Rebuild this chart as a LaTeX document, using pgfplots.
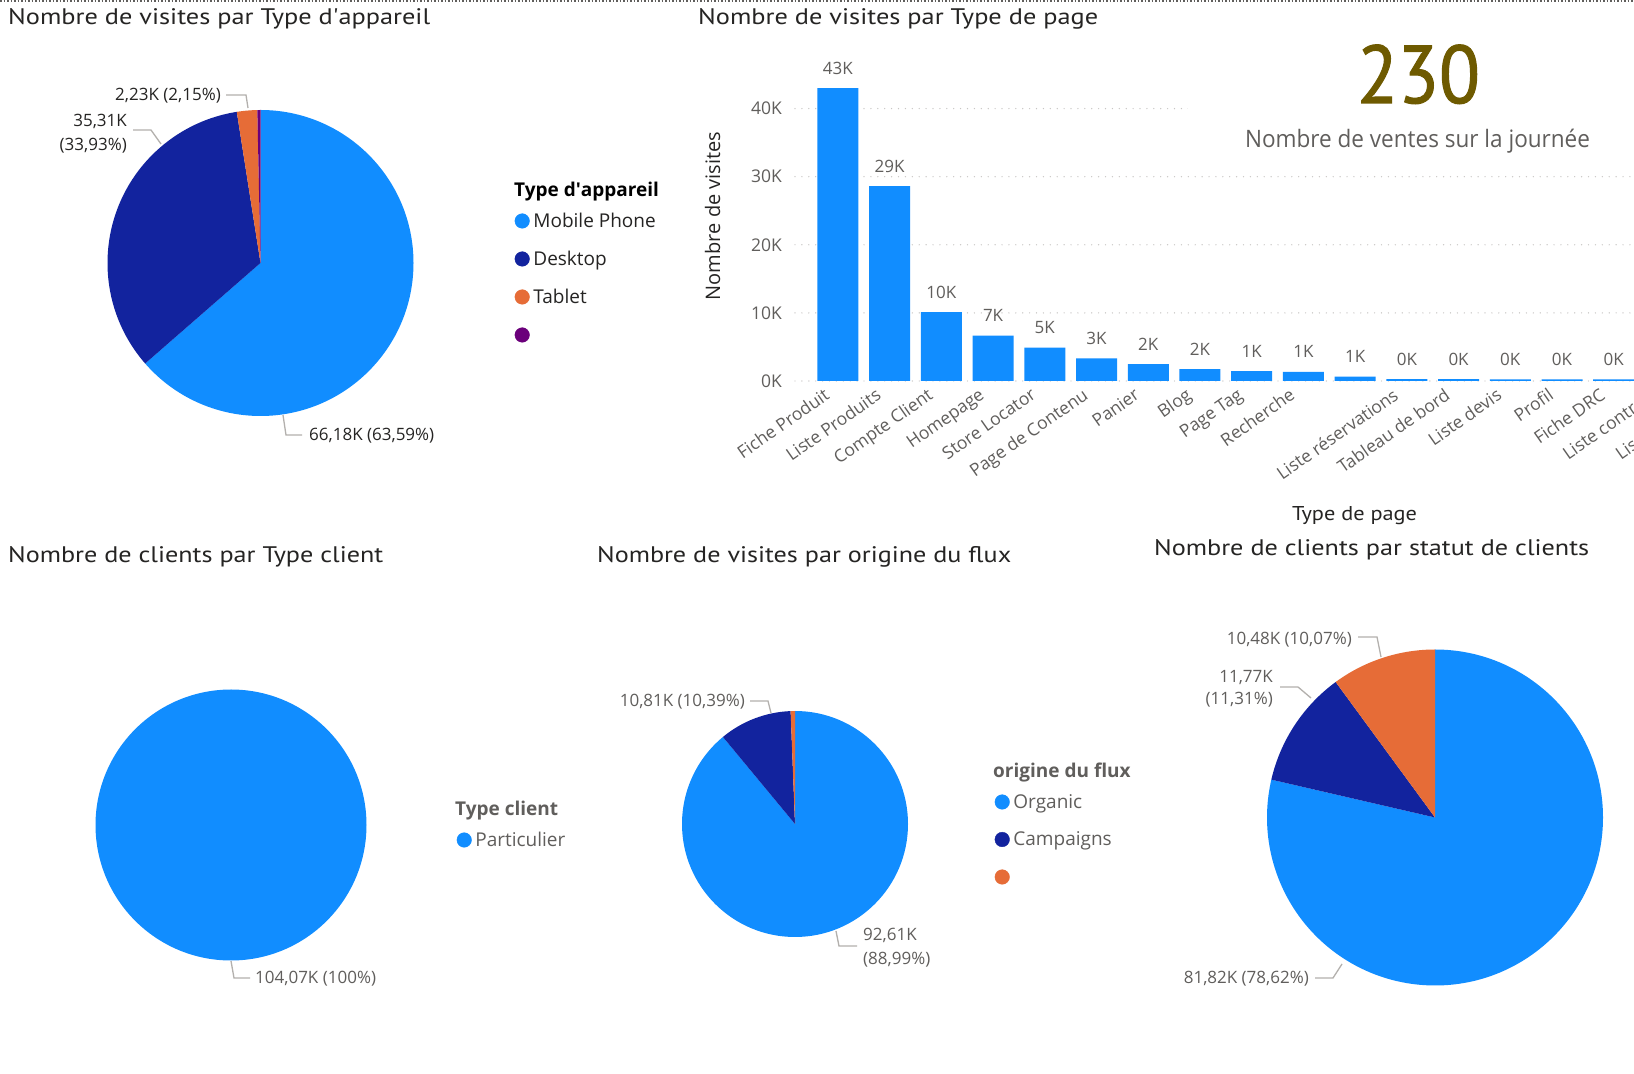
\documentclass[border=0pt]{standalone}
\usepackage{fontspec}
\setmainfont{Open Sans}
\newfontfamily\dinfont{PT Sans}
\newfontfamily\cardfont[FakeBold=1.3]{PT Sans}
\usepackage{graphicx}
\usepackage{pgfplots}
\pgfplotsset{compat=1.18}

\definecolor{pbblue}{HTML}{118DFF}
\definecolor{pbdark}{HTML}{12239E}
\definecolor{pborange}{HTML}{E66C37}
\definecolor{pbpurple}{HTML}{6B007B}
\definecolor{txtdark}{HTML}{252423}
\definecolor{txtgrey}{HTML}{605E5C}
\definecolor{leadc}{HTML}{B3B0AD}
\definecolor{gridc}{HTML}{C8C6C4}
\definecolor{olive}{HTML}{6E5A00}

\newcommand{\fs}[1]{\fontsize{#1pt}{#1pt}\selectfont}
% one pie slice: colour, radius (pt), start (%), value (%)
\newcommand{\slice}[4]{\fill[#1] (axis cs:0,0) -- (axis cs:{cos(90-3.6*#3)},{sin(90-3.6*#3)})
  arc[start angle={90-3.6*#3}, end angle={90-3.6*(#3+#4)}, radius=#2pt] -- cycle;}

\pgfplotsset{
  pieax/.style={hide axis, xmin=-1, xmax=1, ymin=-1, ymax=1, anchor=center, clip=false,
    legend image code/.code={\fill[##1] (0pt,0pt) circle[radius=7.3pt];},
    legend cell align=left,
    legend style={draw=none, fill=none, anchor=north west, inner sep=0pt, outer sep=0pt,
      column sep=3.7pt, row sep=22.5pt,
      nodes={inner sep=0pt, text height=14pt, text depth=1.5pt, font=\fs{19}}}},
}

\begin{document}
\begin{tikzpicture}[x=1pt,y=1pt]
\useasboundingbox (0,0) rectangle (1634,1074);
\clip (0,0) rectangle (1634,1074);
\fill[white] (0,0) rectangle (1634,1074);
\draw[txtgrey, line width=1.2pt, dash pattern=on 1.5pt off 2pt] (0,1073) -- (1634,1073);

% ---------- titles
\node[anchor=base west, inner sep=0, text=txtdark] at (8,1049.5) {\resizebox{422pt}{\height}{\dinfont\fs{22.5}Nombre de visites par Type d\textquotesingle appareil}};
\node[anchor=base west, inner sep=0, text=txtdark] at (698,1049.5) {\resizebox{400pt}{\height}{\dinfont\fs{22.5}Nombre de visites par Type de page}};
\node[anchor=base west, inner sep=0, text=txtdark] at (8,511) {\resizebox{375pt}{\height}{\dinfont\fs{22.5}Nombre de clients par Type client}};
\node[anchor=base west, inner sep=0, text=txtdark] at (597,511) {\resizebox{414pt}{\height}{\dinfont\fs{22.5}Nombre de visites par origine du flux}};
\node[anchor=base west, inner sep=0, text=txtdark] at (1154,518) {\resizebox{435pt}{\height}{\dinfont\fs{22.5}Nombre de clients par statut de clients}};

% ---------- pie 1 : type d'appareil
\begin{axis}[pieax, x=153pt, y=153pt, at={(260.5pt,811pt)},
  legend style={at={(axis cs:1.6614,0.3252)}, nodes={text=txtdark}}]
\slice{pbblue}{153}{0}{63.59}
\slice{pbdark}{153}{63.59}{33.93}
\slice{pborange}{153}{97.52}{2.15}
\slice{pbpurple}{153}{99.67}{0.33}
\addlegendimage{pbblue}\addlegendentry{Mobile Phone}
\addlegendimage{pbdark}\addlegendentry{Desktop}
\addlegendimage{pborange}\addlegendentry{Tablet}
\addlegendimage{pbpurple}\addlegendentry{}
\end{axis}
\node[anchor=base west, inner sep=0, text=black, font=\fs{19}\bfseries] at (514,877) {Type d\textquotesingle appareil};
\begin{scope}[leadc, line width=1.3pt]
\draw (226,979) -- (246,979) -- (248,966);
\draw (133,944) -- (151,944) -- (161,930);
\draw (283,659) -- (286,639) -- (302,639);
\end{scope}
\begin{scope}[every node/.style={inner sep=0, text=txtdark, font=\fs{17}}]
\node[anchor=base east] at (221,973) {2,23K (2,15\%)};
\node[anchor=base east] at (127,947) {35,31K};
\node[anchor=base east] at (127,923) {(33,93\%)};
\node[anchor=base west] at (309,633) {66,18K (63,59\%)};
\end{scope}

% ---------- bar chart : type de page
\begin{axis}[
  at={(795pt,693pt)}, anchor=south west,
  x=51.72pt, y=6.81pt,
  xmin=-0.83, xmax=17.6, ymin=0, ymax=46,
  ybar, bar width=41pt, clip=false,
  axis line style={draw=none}, major tick length=0pt,
  /pgf/number format/assume math mode=true,
  ytick={0,10,20,30,40}, yticklabels={0K,10K,20K,30K,40K},
  ymajorgrids,
  major grid style={color=gridc, line width=1.4pt, line cap=round, dash pattern=on 0pt off 6.9pt},
  yticklabel style={font=\fs{17.5}, text=txtgrey, anchor=east, inner sep=0pt, xshift=-13pt},
  xtick={0,...,17},
  xticklabels={Fiche Produit, Liste Produits, Compte Client, Homepage, Store Locator,
    Page de Contenu, Panier, Blog, Page Tag, Recherche, {}, Liste réservations,
    Tableau de bord, Liste devis, Profil, Fiche DRC, Liste contrats, Liste factures},
  xticklabel style={xshift=-15pt, yshift=-6pt, rotate=35, anchor=north east,
    font=\fs{17.5}, text=txtgrey, inner sep=0pt},
  nodes near coords={\pgfmathprintnumber[fixed,precision=0]{\pgfplotspointmeta}K},
  every node near coord/.append style={anchor=center, yshift=20pt, font=\fs{17}, text=txtgrey},
]
\addplot[fill=pbblue, draw=none] coordinates {
  (0,43.0) (1,28.6) (2,10.1) (3,6.65) (4,4.9) (5,3.33) (6,2.46) (7,1.73)
  (8,1.45) (9,1.35) (10,0.65) (11,0.27) (12,0.26) (13,0.25) (14,0.25) (15,0.24)
};
\end{axis}
\node[rotate=90, anchor=base, inner sep=0, text=txtdark, font=\fs{20}] at (720,858) {Nombre de visites};
\node[anchor=base, inner sep=0, text=txtdark] at (1354.5,553) {\resizebox{125pt}{\height}{\dinfont\fs{20}Type de page}};

% ---------- card
\fill[white] (1188,909) rectangle (1640,1045);
\node[anchor=base, inner sep=0, text=olive] at (1418.5,971) {\resizebox{123pt}{\height}{\cardfont\fs{82}230}};
\node[anchor=base, inner sep=0, text=txtgrey] at (1417.5,926) {\resizebox{345pt}{\height}{\fs{24}Nombre de ventes sur la journée}};

% ---------- pie 2 : type client
\begin{axis}[pieax, x=135.5pt, y=135.5pt, at={(231pt,249pt)},
  legend style={at={(axis cs:1.6657,-0.0535)}, nodes={text=txtgrey}}]
\slice{pbblue}{135.5}{0}{100}
\addlegendimage{pbblue}\addlegendentry{Particulier}
\end{axis}
\node[anchor=base west, inner sep=0, text=txtgrey, font=\fs{19}\bfseries] at (455,258) {Type client};
\draw[leadc, line width=1.3pt] (231,113) -- (234,96) -- (250,96);
\node[anchor=base west, inner sep=0, text=txtgrey, font=\fs{17}] at (255,90) {104,07K (100\%)};

% ---------- pie 3 : origine du flux
\begin{axis}[pieax, x=113pt, y=113pt, at={(795pt,250pt)},
  legend style={at={(axis cs:1.7673,0.2633)}, row sep=22pt, nodes={text=txtgrey}}]
\slice{pbblue}{113}{0}{88.99}
\slice{pbdark}{113}{88.99}{10.39}
\slice{pborange}{113}{99.38}{0.62}
\addlegendimage{pbblue}\addlegendentry{Organic}
\addlegendimage{pbdark}\addlegendentry{Campaigns}
\addlegendimage{pborange}\addlegendentry{}
\end{axis}
\node[anchor=base west, inner sep=0, text=txtgrey, font=\fs{19}\bfseries] at (993,296) {origine du flux};
\begin{scope}[leadc, line width=1.3pt]
\draw (750,373) -- (768,373) -- (771,361);
\draw (836,143) -- (839,128) -- (857,128);
\end{scope}
\begin{scope}[every node/.style={inner sep=0, text=txtgrey, font=\fs{17}}]
\node[anchor=base east] at (745,367) {10,81K (10,39\%)};
\node[anchor=base west] at (863,133) {92,61K};
\node[anchor=base west] at (863,109) {(88,99\%)};
\end{scope}

% ---------- pie 4 : statut de clients
\begin{axis}[pieax, x=168pt, y=168pt, at={(1435pt,256.5pt)}]
\slice{pbblue}{168}{0}{78.62}
\slice{pbdark}{168}{78.62}{11.31}
\slice{pborange}{168}{89.93}{10.07}
\end{axis}
\begin{scope}[leadc, line width=1.3pt]
\draw (1358,437) -- (1377,437) -- (1381,417);
\draw (1280,387) -- (1298,387) -- (1311,376);
\draw (1315,96) -- (1333,96) -- (1342,110);
\end{scope}
\begin{scope}[every node/.style={inner sep=0, text=txtgrey, font=\fs{17}}]
\node[anchor=base east] at (1352,429) {10,48K (10,07\%)};
\node[anchor=base east] at (1273,391) {11,77K};
\node[anchor=base east] at (1273,369) {(11,31\%)};
\node[anchor=base east] at (1309,90) {81,82K (78,62\%)};
\end{scope}
\end{tikzpicture}
\end{document}
